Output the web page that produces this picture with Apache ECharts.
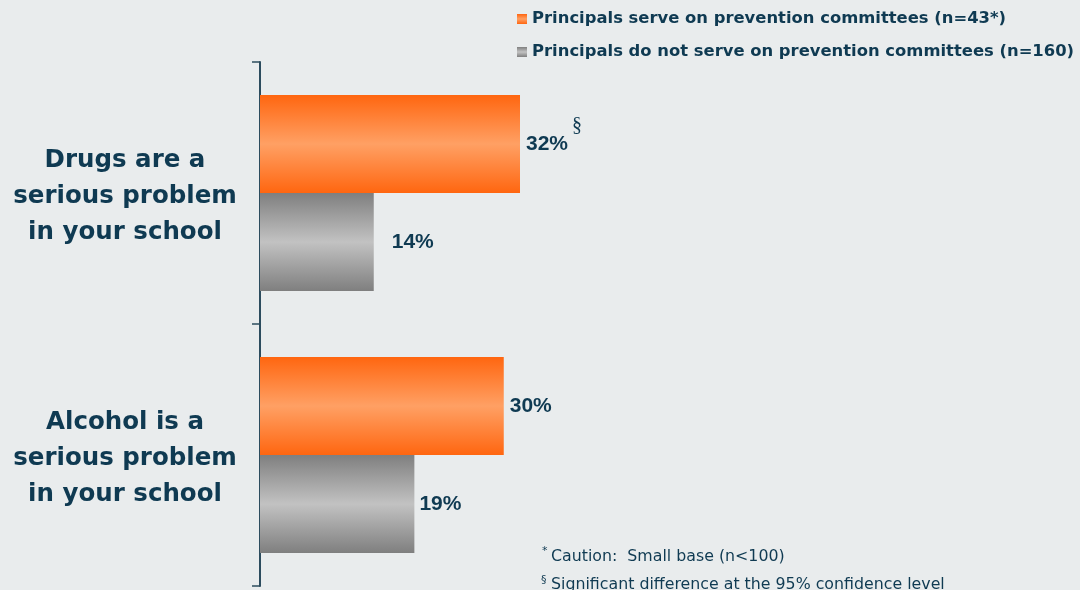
<!DOCTYPE html>
<html>
<head>
<meta charset="utf-8">
<script src="https://cdn.jsdelivr.net/npm/echarts@6/dist/echarts.min.js"></script>
<style>
  html, body { margin: 0; padding: 0; background: #e9eced; }
  #chart { width: 1080px; height: 590px; }
</style>
</head>
<body>
<div id="chart"></div>
<script>
  // data
  var categories = ['Drugs are a\nserious problem\nin your school', 'Alcohol is a\nserious problem\nin your school']
  var serveValues = [32, 30]
  var notServeValues = [14, 19]
  var seriesNames = ['Principals serve on prevention committees (n=43*)', 'Principals do not serve on prevention committees (n=160)']
  var footnotes = ['Caution:  Small base (n<100)', 'Significant difference at the 95% confidence level']

  var textColor = '#0f3a52'
  var wideFont = '"DejaVu Sans", Verdana, sans-serif'

  function vGrad (edge, mid) {
    return new echarts.graphic.LinearGradient(0, 0, 0, 1, [
      {offset: 0, color: edge},
      {offset: 0.5, color: mid},
      {offset: 1, color: edge}
    ])
  }

  var chart = echarts.init(document.getElementById('chart'))
  chart.setOption({
    backgroundColor: '#e9eced',
    animation: false,
    textStyle: {fontFamily: 'Liberation Sans, Arial, sans-serif'},
    legend: {
      orient: 'vertical',
      left: 512,
      top: 6,
      itemWidth: 10,
      itemHeight: 10,
      itemGap: 17,
      icon: 'rect',
      data: seriesNames,
      textStyle: {color: textColor, fontSize: 16.4, fontWeight: 'bold', fontFamily: wideFont}
    },
    grid: {left: 260, right: 7.5, top: 62, bottom: 4},
    xAxis: {
      type: 'value',
      min: 0,
      max: 100,
      show: false
    },
    yAxis: {
      type: 'category',
      inverse: true,
      data: categories,
      axisLine: {lineStyle: {color: '#2c4c5e', width: 2}},
      axisTick: {show: true, length: 8, lineStyle: {color: '#2c4c5e', width: 1.5}},
      axisLabel: {
        align: 'center',
        margin: 135,
        // a short empty first line nudges the block down a little
        formatter: function (v) {
          return '{s| }\n' + v.split('\n').map(function (l) { return '{a|' + l + '}' }).join('\n')
        },
        rich: {
          s: {lineHeight: 8, fontSize: 4},
          a: {
            color: textColor,
            fontSize: 24.5,
            fontWeight: 'bold',
            fontFamily: wideFont,
            lineHeight: 36,
            align: 'center'
          }
        }
      }
    },
    series: [
      {
        name: seriesNames[0],
        type: 'bar',
        data: serveValues,
        barWidth: 98,
        barGap: '0%',
        itemStyle: {color: vGrad('#ff6610', '#ffa064')},
        label: {
          show: true,
          position: 'right',
          distance: 6,
          formatter: '{c}%',
          color: textColor,
          fontSize: 21,
          fontWeight: 'bold'
        }
      },
      {
        name: seriesNames[1],
        type: 'bar',
        data: notServeValues.map(function (v, i) {
          return i === 0 ? {value: v, label: {distance: 18}} : v
        }),
        barWidth: 98,
        barGap: '0%',
        itemStyle: {color: vGrad('#7f7f7f', '#c2c2c2')},
        label: {
          show: true,
          position: 'right',
          distance: 5,
          formatter: '{c}%',
          color: textColor,
          fontSize: 21,
          fontWeight: 'bold'
        }
      }
    ],
    graphic: [
      {
        type: 'text', left: 572, top: 116,
        style: {text: '§', fill: textColor, font: '20px "Liberation Serif", serif'}
      },
      {
        type: 'text', left: 542, top: 546,
        style: {text: '*', fill: textColor, font: '11px ' + wideFont}
      },
      {
        type: 'text', left: 551, top: 549,
        style: {text: footnotes[0], fill: textColor, font: '15.8px ' + wideFont}
      },
      {
        type: 'text', left: 541, top: 575,
        style: {text: '§', fill: textColor, font: '11px ' + wideFont}
      },
      {
        type: 'text', left: 551, top: 577,
        style: {text: footnotes[1], fill: textColor, font: '15.8px ' + wideFont}
      }
    ]
  })
</script>
</body>
</html>
